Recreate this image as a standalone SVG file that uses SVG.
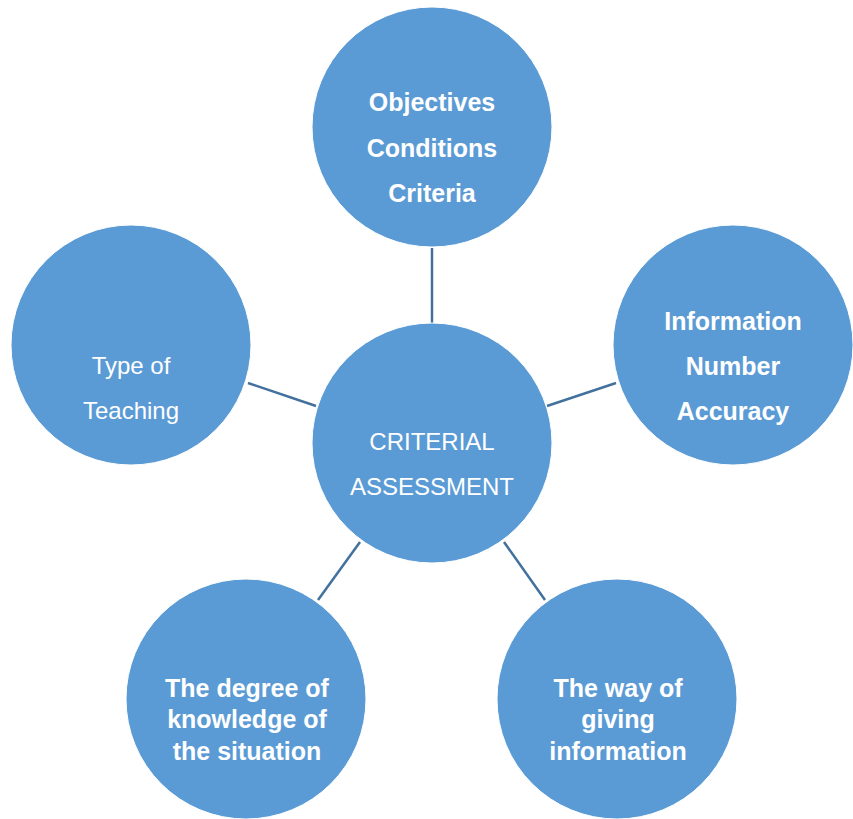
<svg xmlns="http://www.w3.org/2000/svg" width="853" height="819" viewBox="0 0 853 819">
<style>
.node{fill:#5B9BD5;stroke:#ffffff;stroke-width:1}
.lbl{fill:#ffffff;font-family:"Liberation Sans",Arial,sans-serif;font-size:24px;text-anchor:middle}
.b{font-weight:bold;font-size:25px}
.conn line{stroke:#41719C;stroke-width:2.5}
</style>
<rect width="853" height="819" fill="#ffffff"/>
<g id="connectors" class="conn">
<line x1="432" y1="248" x2="432" y2="323"/>
<line x1="248" y1="383" x2="316" y2="406"/>
<line x1="547" y1="406" x2="616" y2="383"/>
<line x1="360" y1="542" x2="318" y2="600"/>
<line x1="504" y1="542" x2="545" y2="600"/>
</g>
<g id="center">
<circle class="node" cx="432" cy="443" r="120"/>
<text class="lbl" x="432" y="450">CRITERIAL</text>
<text class="lbl" x="432" y="495">ASSESSMENT</text>
</g>
<g id="top">
<circle class="node" cx="432" cy="127" r="120"/>
<text class="lbl b" x="432" y="111">Objectives</text>
<text class="lbl b" x="432" y="157">Conditions</text>
<text class="lbl b" x="432" y="202">Criteria</text>
</g>
<g id="right">
<circle class="node" cx="733" cy="345" r="120"/>
<text class="lbl b" x="733" y="330">Information</text>
<text class="lbl b" x="733" y="375">Number</text>
<text class="lbl b" x="733" y="420">Accuracy</text>
</g>
<g id="left">
<circle class="node" cx="131" cy="345" r="120"/>
<text class="lbl" x="131" y="374">Type of</text>
<text class="lbl" x="131" y="419">Teaching</text>
</g>
<g id="bottom-left">
<circle class="node" cx="246" cy="699" r="120"/>
<text class="lbl b" x="247" y="697">The degree of</text>
<text class="lbl b" x="247" y="728">knowledge of</text>
<text class="lbl b" x="247" y="760">the situation</text>
</g>
<g id="bottom-right">
<circle class="node" cx="617" cy="699" r="120"/>
<text class="lbl b" x="618" y="697">The way of</text>
<text class="lbl b" x="618" y="728">giving</text>
<text class="lbl b" x="618" y="760">information</text>
</g>
</svg>
